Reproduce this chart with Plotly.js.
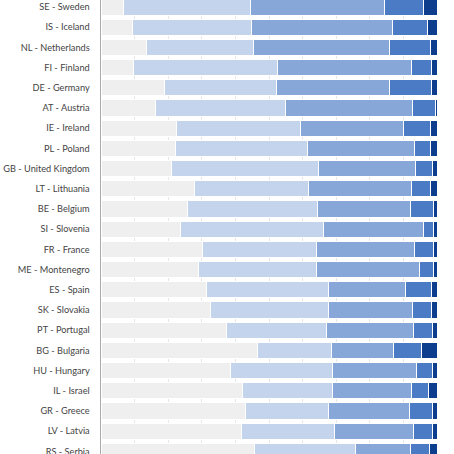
<!DOCTYPE html>
<html>
<head>
<meta charset="utf-8">
<script src="https://cdn.plot.ly/plotly-3.0.1.min.js"></script>
<style>
  html, body { margin: 0; padding: 0; background: #fff; }
  #plot { width: 454px; height: 454px; }
</style>
</head>
<body>
<div id="plot"></div>
<script>
// countries, top to bottom
const countries = [
  'SE - Sweden', 'IS - Iceland', 'NL - Netherlands', 'FI - Finland',
  'DE - Germany', 'AT - Austria', 'IE - Ireland', 'PL - Poland',
  'GB - United Kingdom', 'LT - Lithuania', 'BE - Belgium', 'SI - Slovenia',
  'FR - France', 'ME - Montenegro', 'ES - Spain', 'SK - Slovakia',
  'PT - Portugal', 'BG - Bulgaria', 'HU - Hungary', 'IL - Israel',
  'GR - Greece', 'LV - Latvia', 'RS - Serbia'
]

// share of respondents (%) per answer
const cat1 = [6.6, 9.5, 13.6, 9.8, 18.9, 16.3, 22.6, 22.2, 20.9, 27.9, 25.8, 23.6,
  30.1, 28.9, 31.3, 32.5, 37.4, 46.6, 38.6, 42.1, 43.0, 41.7, 45.8]
const cat2 = [38.0, 35.2, 31.9, 42.6, 33.2, 38.5, 36.9, 39.3, 43.7, 33.8, 38.6, 42.5,
  34.1, 35.1, 36.3, 35.3, 29.8, 22.1, 30.3, 26.8, 24.6, 27.8, 29.9]
const cat3 = [39.7, 42.1, 40.4, 39.9, 33.8, 38.0, 30.4, 31.7, 29.1, 30.6, 27.8, 29.9,
  29.2, 30.9, 23.0, 25.0, 25.8, 18.5, 25.1, 23.4, 24.2, 23.5, 16.5]
const cat4 = [11.7, 10.3, 12.2, 6.0, 12.5, 6.7, 8.2, 4.9, 5.0, 5.8, 6.8, 2.9,
  5.5, 4.0, 7.8, 5.6, 5.7, 8.3, 4.7, 5.3, 6.9, 5.7, 5.5]
const cat5 = [4.0, 2.9, 1.9, 1.7, 1.6, 0.5, 1.9, 1.9, 1.3, 1.9, 1.0, 1.1,
  1.1, 1.1, 1.6, 1.6, 1.3, 4.5, 1.3, 2.4, 1.3, 1.3, 2.3]

const seriesNames = ['Category 1', 'Category 2', 'Category 3', 'Category 4', 'Category 5']
const colors = ['#efefef', '#c4d4ec', '#86a7d7', '#4a7bc4', '#0c3e8d']

const traces = [cat1, cat2, cat3, cat4, cat5].map((vals, i) => ({
  type: 'bar',
  orientation: 'h',
  name: seriesNames[i],
  y: countries,
  x: vals,
  marker: {
    color: colors[i],
    line: { color: '#ffffff', width: 1 }
  },
  hoverinfo: 'x+name'
}))

Plotly.newPlot('plot', traces, {
  width: 454,
  height: 454,
  barmode: 'stack',
  bargap: 0.2,
  showlegend: false,
  paper_bgcolor: '#ffffff',
  plot_bgcolor: '#ffffff',
  margin: { t: 0, r: 17, b: 0, l: 101 },
  font: { family: 'Lato, sans-serif', size: 9.2, color: '#444' },
  xaxis: {
    range: [0, 100],
    dtick: 10,
    showgrid: true,
    gridcolor: '#e6e6e6',
    zeroline: false,
    showticklabels: false,
    fixedrange: true
  },
  yaxis: {
    type: 'category',
    range: [22.13, -0.35],
    showline: true,
    linecolor: '#aaaaaa',
    linewidth: 1.5,
    ticks: '',
    ticklabelstandoff: 8,
    showgrid: false,
    zeroline: false,
    fixedrange: true
  }
}, {
  displayModeBar: false,
  staticPlot: true
})
</script>
</body>
</html>
